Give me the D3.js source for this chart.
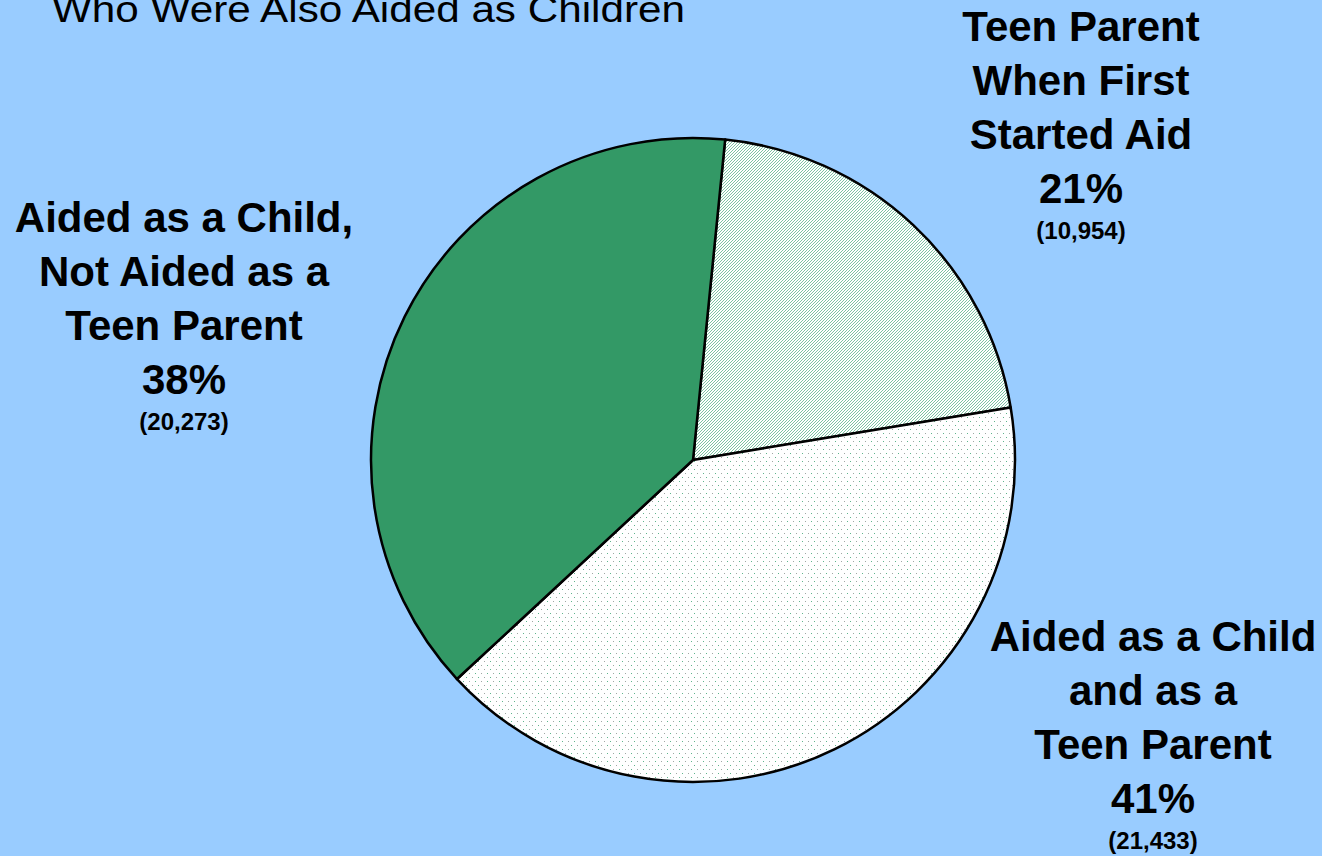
<!DOCTYPE html>
<html>
<head>
<meta charset="utf-8">
<script src="https://cdn.jsdelivr.net/npm/d3@7"></script>
<style>
  html, body { margin: 0; padding: 0; background: #99CCFF; }
  svg { display: block; }
</style>
</head>
<body>
<svg id="chart" width="1322" height="856"></svg>
<script>
// Slice data, in drawing order (clockwise from just past 12 o'clock)
const categories = [
  ["Teen Parent", "When First", "Started Aid"],
  ["Aided as a Child", "and as a", "Teen Parent"],
  ["Aided as a Child,", "Not Aided as a", "Teen Parent"]
];
const counts = [10954, 21433, 20273];
const percentLabels = ["21%", "41%", "38%"];
const countLabels = ["(10,954)", "(21,433)", "(20,273)"];
const fills = ["url(#hatch)", "url(#dots)", "#339966"];
const titleText = "Who Were Also Aided as Children";

const W = 1322, H = 856;
const svg = d3.select("#chart");

// Fill patterns
const defs = svg.append("defs");
const hatch = defs.append("pattern")
  .attr("id", "hatch").attr("patternUnits", "userSpaceOnUse")
  .attr("width", 3).attr("height", 3);
hatch.append("rect").attr("width", 3).attr("height", 3).attr("fill", "#ffffff");
[[0, 2], [1, 1], [2, 0]].forEach(([x, y]) =>
  hatch.append("rect").attr("x", x).attr("y", y).attr("width", 1).attr("height", 1).attr("fill", "#7cc4a2"));

const dots = defs.append("pattern")
  .attr("id", "dots").attr("patternUnits", "userSpaceOnUse")
  .attr("width", 12).attr("height", 8);
dots.append("rect").attr("width", 12).attr("height", 8).attr("fill", "#ffffff");
[[1, 1, "#5fb48c"], [7, 1, "#a0a8a4"], [4, 5, "#a0a8a4"], [10, 5, "#5fb48c"]].forEach(([x, y, c]) =>
  dots.append("rect").attr("x", x).attr("y", y).attr("width", 1).attr("height", 1).attr("fill", c));

// Title (its upper part runs off the top edge)
svg.append("text")
  .attr("x", 52).attr("y", 22)
  .attr("textLength", 633).attr("lengthAdjust", "spacingAndGlyphs")
  .attr("font-family", "Liberation Sans, Arial, sans-serif")
  .attr("font-size", 36)
  .attr("fill", "#000")
  .text(titleText);

// Pie
const cx = 693, cy = 460, r = 322;
const startA = 0.1;
const pie = d3.pie().sort(null).value(d => d)
  .startAngle(startA).endAngle(startA + 2 * Math.PI);
const arc = d3.arc().innerRadius(0).outerRadius(r);

const g = svg.append("g").attr("transform", `translate(${cx},${cy})`);
g.selectAll("path.slice")
  .data(pie(counts))
  .join("path")
  .attr("class", "slice")
  .attr("d", arc)
  .attr("fill", (d, i) => fills[i])
  .attr("stroke", "#000")
  .attr("stroke-width", 2.5)
  .attr("stroke-linejoin", "round");

// Labels: center x and first baseline of each label block
const labelPos = [[1081, 41], [1153, 651], [184, 232]];
const lineGap = 54;
const font = "Liberation Sans, Arial, sans-serif";

categories.forEach((lines, i) => {
  const [lx, ly] = labelPos[i];
  const t = svg.append("g");
  lines.concat([percentLabels[i]]).forEach((s, k) => {
    t.append("text")
      .attr("x", lx).attr("y", ly + k * lineGap)
      .attr("text-anchor", "middle")
      .attr("font-family", font).attr("font-weight", "bold")
      .attr("font-size", 42).attr("fill", "#000")
      .text(s);
  });
  t.append("text")
    .attr("x", lx).attr("y", ly + 3 * lineGap + 36)
    .attr("text-anchor", "middle")
    .attr("font-family", font).attr("font-weight", "bold")
    .attr("font-size", 24).attr("fill", "#000")
    .text(countLabels[i]);
});
</script>
</body>
</html>
